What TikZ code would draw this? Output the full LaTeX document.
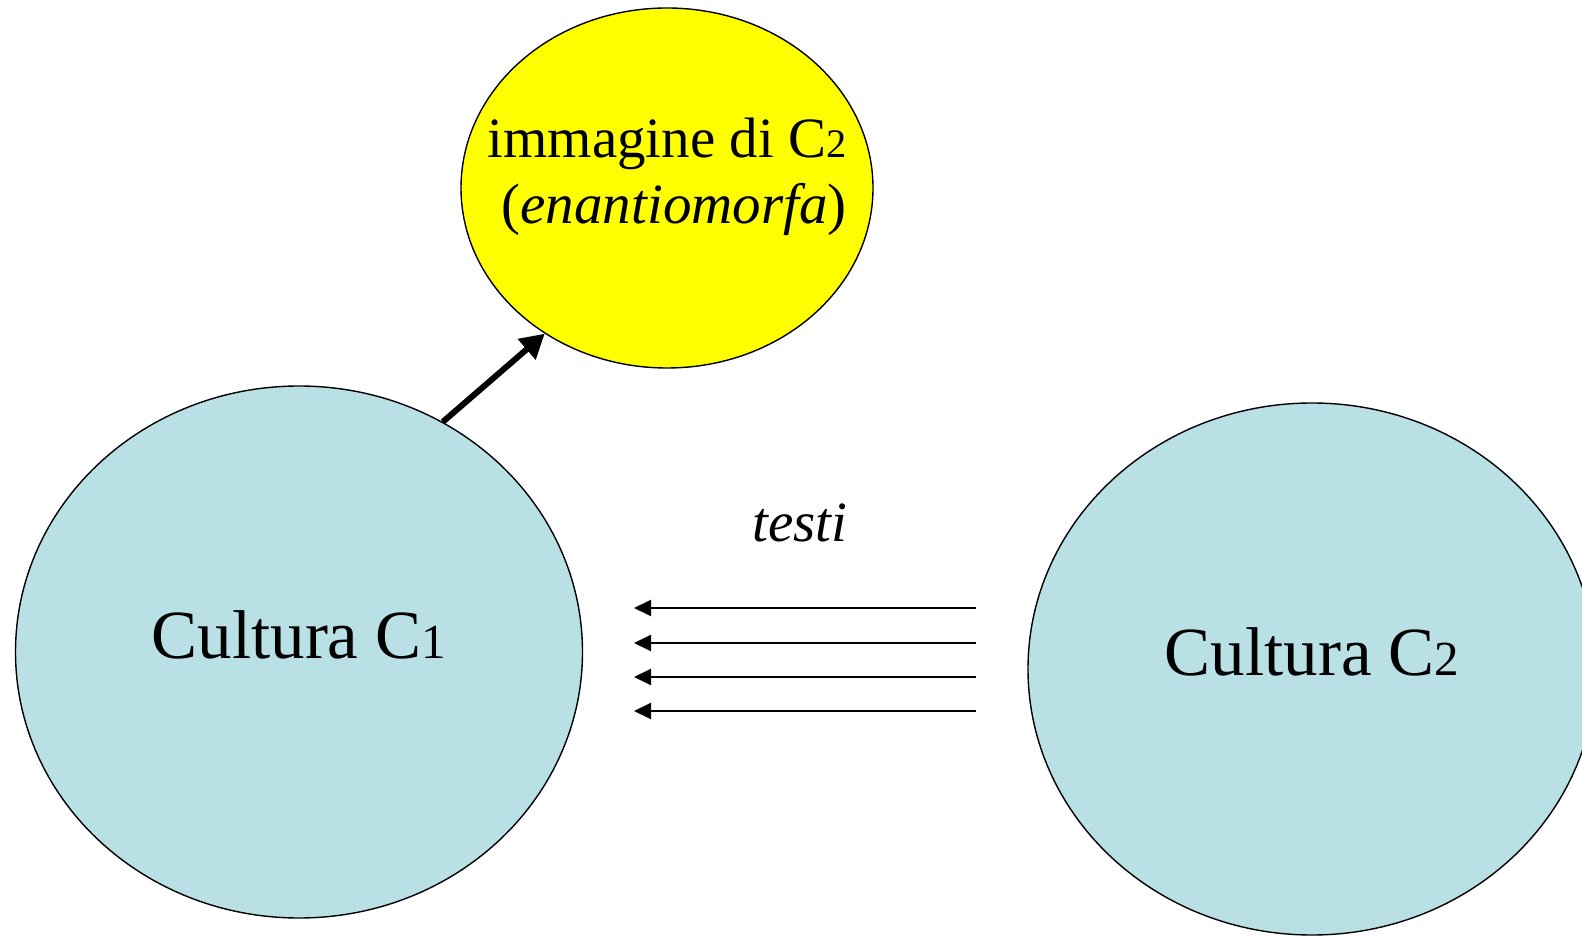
\documentclass[tikz,border=0pt]{standalone}
\usepackage{fontspec}
\setmainfont{Liberation Serif}
\usetikzlibrary{positioning,calc,shapes.geometric,arrows.meta}

\definecolor{culturablue}{HTML}{B9E0E5}
\definecolor{imageyellow}{HTML}{FFFF00}
\newcommand\digitsub[1]{{\fontsize{0.71em}{0.71em}\selectfont #1}}

\begin{document}
\begin{tikzpicture}[x=1pt,y=1pt]
  \useasboundingbox (0,0) rectangle (1582,935);
  \begin{scope}[
    every node/.style={
      ellipse,
      draw,
      line width=1.4pt,
      inner sep=0pt,
      align=center,
    },
    ]
    \node[fill=culturablue,minimum width=567pt,minimum height=532pt,
      font=\fontsize{69}{75}\selectfont,text depth=35pt]
      (c1) at (299,283) {Cultura C\digitsub{1}};
    \node[fill=culturablue,minimum width=568pt,minimum height=532pt,
      font=\fontsize{69}{75}\selectfont,text depth=35pt]
      (c2) at (1312,266) {Cultura C\digitsub{2}};
    \node[fill=imageyellow,minimum width=412pt,minimum height=360pt,
      inner xsep=-50pt,
      font=\fontsize{57}{66}\selectfont,text depth=34pt]
      (image) at (667,747) {immagine di C\digitsub{2}\\\ (\textit{enantiomorfa})};
  \end{scope}
  \node[font=\fontsize{57}{66}\itshape\selectfont] (testi) at (800,412) {testi};
  \begin{scope}[
    every path/.style={draw,line width=2pt,-{Triangle[length=17pt,width=16pt]}},
    ]
    \foreach \y [count=\i] in {327,292,258,224}{
      \coordinate (from-\i) at (976,\y);
      \coordinate (to-\i) at (634,\y);
      \path (from-\i) -- (to-\i);
    }
  \end{scope}
  \draw[line width=6pt,-{Triangle[length=24pt,width=26pt]}] (c1.58) -- (image.230);
\end{tikzpicture}
\end{document}
